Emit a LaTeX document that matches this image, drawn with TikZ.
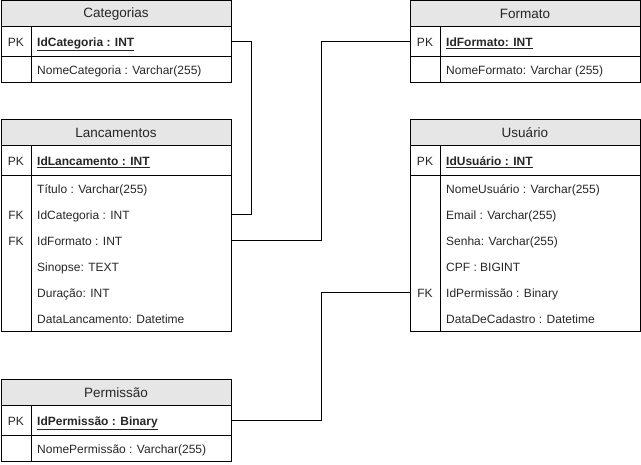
\documentclass[tikz,border=0pt]{standalone}
\usepackage{fontspec}
\setmainfont{Liberation Sans}
\definecolor{hdrfill}{HTML}{E6E6E6}
\definecolor{txt}{HTML}{262626}
\tikzset{
  tbl/.style={draw=black, line width=1pt},
  hdr/.style={draw=black, line width=1pt, fill=hdrfill, minimum width=230, minimum height=26,
    inner sep=0, outer sep=0, font=\fontsize{13.5}{15}\selectfont, text=txt},
  rowbox/.style={minimum width=230, inner sep=0, outer sep=0},
  keytxt/.style={font=\fontsize{12}{14}\selectfont, text=txt, inner sep=0, text height=8.5, text depth=2.5},
  fieldtxt/.style={font=\fontsize{12}{14}\selectfont, text=txt, inner sep=0, anchor=west, text height=8.5, text depth=2.5},
  link/.style={draw=black, line width=1pt},
}
% #1 name, #2 left x, #3 top y, #4 title, #5 primary key field, #6 other rows (key/field), #7 row count
\newcommand\ertable[7]{%
  \node[hdr, anchor=north west] (#1-h) at (#2,#3) {\raisebox{-1pt}{#4}};
  \node[rowbox, tbl, minimum height=30, anchor=north west] (#1-pk) at (#2,#3+26) {};
  \node[keytxt] (#1-pkk) at (#2+15,#3+42.5) {PK};
  \node[fieldtxt] (#1-pkf) at (#2+36,#3+42.5) {\underline{\textbf{#5}}};
  \foreach \k/\f [count=\i] in {#6} {
    \node[rowbox, minimum height=26, anchor=north west] (#1-r\i) at (#2,#3+56+26*\i-26) {};
    \node[keytxt] (#1-k\i) at (#2+15,#3+71+26*\i-26) {\k};
    \node[fieldtxt] (#1-f\i) at (#2+36,#3+71+26*\i-26) {\f};
  }
  \draw[tbl] (#2,#3+56) rectangle (#2+230,#3+56+26*#7);
  \draw[tbl] (#2+30,#3+26) -- (#2+30,#3+56+26*#7);
}
\begin{document}
\begin{tikzpicture}[x=1pt, y=-1pt]
\useasboundingbox (0,0) rectangle (641,465);

\ertable{cat}{1}{1}{Categorias}{IdCategoria : INT}{{}/NomeCategoria : Varchar(255)}{1}
\ertable{fmt}{410}{1}{Formato}{IdFormato: INT}{{}/NomeFormato: Varchar (255)}{1}
\ertable{lan}{1}{120}{Lancamentos}{IdLancamento : INT}{{}/Título : Varchar(255),
  FK/IdCategoria : INT, FK/IdFormato : INT, {}/Sinopse: TEXT, {}/Duração: INT,
  {}/DataLancamento: Datetime}{6}
\ertable{usr}{410}{120}{Usuário}{IdUsuário : INT}{{}/NomeUsuário : Varchar(255),
  {}/Email : Varchar(255), {}/Senha: Varchar(255), {}/CPF : BIGINT,
  FK/IdPermissão : Binary, {}/DataDeCadastro : Datetime}{6}
\ertable{per}{1}{380}{Permissão}{IdPermissão : Binary}{{}/NomePermissão : Varchar(255)}{1}

% relationship routing columns
\coordinate (catbus) at (251,0);
\coordinate (bus) at (321.5,0);

\draw[link] (cat-pk.east) -- (cat-pk.east -| catbus) |- (lan-r2.east);
\draw[link] (lan-r3.east) -- (lan-r3.east -| bus) |- (fmt-pk.west);
\draw[link] (per-pk.east) -- (per-pk.east -| bus) |- (usr-r5.west);
\end{tikzpicture}
\end{document}
